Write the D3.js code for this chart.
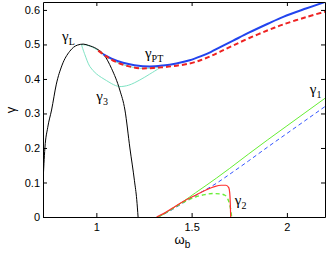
<!DOCTYPE html>
<html>
<head>
<meta charset="utf-8">
<script src="https://cdn.jsdelivr.net/npm/d3@7"></script>
<style>
  body { margin: 0; background: #fff; }
  .tick text { font-family: "Liberation Sans", Arial, sans-serif; font-size: 11px; fill: #000; }
  .lbl { font-family: "Liberation Serif", "Times New Roman", serif; fill: #000; }
</style>
</head>
<body>
<svg width="327" height="255"></svg>
<script>
// The svg
const svg = d3.select('svg'),
  width = +svg.attr('width'),
  height = +svg.attr('height');
const margin = { top: 2, right: 2, bottom: 38, left: 43 };

// Data (omega_b, gamma)
const gammaL_w = [0.72, 0.73, 0.745, 0.765, 0.79, 0.82, 0.86, 0.90, 0.931, 0.96, 1.0, 1.04, 1.08, 1.123, 1.15, 1.176, 1.20, 1.212, 1.219];
const gammaL_g = [0.10, 0.20, 0.26, 0.31, 0.385, 0.44, 0.48, 0.498, 0.501, 0.497, 0.488, 0.47, 0.43, 0.368, 0.31, 0.2, 0.105, 0.05, 0];

const gamma3Low_w = [0.922, 0.94, 0.966, 1.0, 1.054, 1.1, 1.123, 1.17, 1.228, 1.28, 1.333];
const gamma3Low_g = [0.499, 0.47, 0.436, 0.415, 0.395, 0.381, 0.378, 0.382, 0.397, 0.414, 0.432];
const gamma3Up_w = [0.922, 0.95, 0.98, 1.01, 1.05, 1.1, 1.16, 1.228, 1.3, 1.333];
const gamma3Up_g = [0.499, 0.498, 0.492, 0.482, 0.466, 0.45, 0.438, 0.431, 0.432, 0.434];

const gammaPT_w = [1.035, 1.08, 1.14, 1.2, 1.28, 1.35, 1.42, 1.49, 1.55, 1.6, 1.65, 1.718, 1.8, 1.9, 1.981, 2.1, 2.2];
const gammaPT_g = [0.472, 0.459, 0.447, 0.44, 0.436, 0.439, 0.445, 0.454, 0.466, 0.478, 0.492, 0.511, 0.534, 0.56, 0.58, 0.604, 0.623];
const gammaPTd_w = [1.01, 1.05, 1.1, 1.16, 1.228, 1.3, 1.4, 1.49, 1.55, 1.6, 1.65, 1.718, 1.8, 1.9, 1.981, 2.1, 2.2];
const gammaPTd_g = [0.482, 0.466, 0.45, 0.438, 0.431, 0.432, 0.437, 0.445, 0.455, 0.466, 0.479, 0.497, 0.518, 0.541, 0.558, 0.579, 0.595];

const gamma1_w = [1.324, 1.36, 1.40, 1.456, 1.52, 1.58, 1.631, 1.70, 1.80, 1.90, 2.0, 2.1, 2.2];
const gamma1_g = [0, 0.01, 0.025, 0.045, 0.07, 0.093, 0.113, 0.141, 0.183, 0.224, 0.264, 0.304, 0.344];
const gamma1d_w = [1.324, 1.40, 1.456, 1.52, 1.631, 1.718, 1.8, 1.9, 2.0, 2.1, 2.2];
const gamma1d_g = [0, 0.022, 0.041, 0.062, 0.098, 0.131, 0.163, 0.203, 0.242, 0.281, 0.32];

const gamma2_w = [1.316, 1.36, 1.40, 1.456, 1.52, 1.578, 1.62, 1.655, 1.68, 1.695, 1.700, 1.703, 1.705];
const gamma2_g = [0, 0.012, 0.026, 0.045, 0.063, 0.079, 0.088, 0.092, 0.092, 0.085, 0.07, 0.04, 0];
const gamma2d_w = [1.324, 1.40, 1.456, 1.52, 1.57, 1.612, 1.65, 1.675, 1.69, 1.70, 1.707, 1.71];
const gamma2d_g = [0, 0.024, 0.042, 0.058, 0.065, 0.068, 0.067, 0.063, 0.052, 0.035, 0.015, 0];

const xTicks = [1, 1.5, 2];
const yTicks = [0, 0.1, 0.2, 0.3, 0.4, 0.5, 0.6];

// Scales
const x = d3.scaleLinear().domain([0.72, 2.2]).range([margin.left, width - margin.right]);
const y = d3.scaleLinear().domain([0, 0.623]).range([height - margin.bottom, margin.top]);

// Clip
svg.append('clipPath').attr('id', 'clip')
  .append('rect')
  .attr('x', margin.left).attr('y', margin.top)
  .attr('width', width - margin.left - margin.right)
  .attr('height', height - margin.top - margin.bottom);

function draw(ws, gs, color, w, dash, curve) {
  const line = d3.line()
    .x(d => x(d[0]))
    .y(d => y(d[1]))
    .curve(curve || d3.curveMonotoneX);
  const pts = ws.map((v, i) => [v, gs[i]]);
  const p = svg.append('path')
    .attr('clip-path', 'url(#clip)')
    .attr('d', line(pts))
    .attr('fill', 'none')
    .attr('stroke', color)
    .attr('stroke-width', w);
  if (dash) p.attr('stroke-dasharray', dash);
}

const smooth = d3.curveCatmullRom.alpha(0.5);
draw(gamma3Up_w, gamma3Up_g, '#7fe3c4', 1, null, smooth);
draw(gamma3Low_w, gamma3Low_g, '#7fe3c4', 1, null, smooth);
draw(gammaL_w, gammaL_g, '#000', 1);
draw(gamma1_w, gamma1_g, '#66ee33', 1);
draw(gamma1d_w, gamma1d_g, '#3355ff', 1, '4,3');
draw(gamma2d_w, gamma2d_g, '#66ee33', 1.4, '4,3');
draw(gamma2_w, gamma2_g, '#ff3030', 1.2);
draw(gammaPT_w, gammaPT_g, '#2244ee', 2, null, smooth);
draw(gammaPTd_w, gammaPTd_g, '#ee2222', 2, '5,3', smooth);

// Axes (ticks pointing inward, box on top and right)
svg.append('g')
  .attr('transform', `translate(0,${height - margin.bottom})`)
  .call(d3.axisBottom(x).tickValues(xTicks).tickSizeInner(-4).tickSizeOuter(0).tickPadding(6).tickFormat(d3.format('')));
svg.append('g')
  .attr('transform', `translate(${margin.left},0)`)
  .call(d3.axisLeft(y).tickValues(yTicks).tickSizeInner(-4).tickSizeOuter(0).tickPadding(3).tickFormat(d3.format('')));
svg.append('g')
  .attr('transform', `translate(0,${margin.top})`)
  .call(d3.axisTop(x).tickValues(xTicks).tickSizeInner(-4).tickSizeOuter(0).tickFormat(''));
svg.append('g')
  .attr('transform', `translate(${width - margin.right},0)`)
  .call(d3.axisRight(y).tickValues(yTicks).tickSizeInner(-4).tickSizeOuter(0).tickFormat(''));
svg.selectAll('.domain').attr('stroke', '#000');
svg.selectAll('.tick line').attr('stroke', '#000');

// Curve labels
function label(tx, ty, sub) {
  const t = svg.append('text').attr('class', 'lbl').attr('x', tx).attr('y', ty).style('font-size', '15px');
  t.append('tspan').text('γ');
  t.append('tspan').attr('dy', 4).style('font-size', '10px').text(sub);
}
label(x(0.82), y(0.51), 'L');
label(x(1.0), y(0.335), '3');
label(x(1.255), y(0.46), 'PT');
label(x(2.12), y(0.355), '1');
label(x(1.727), y(0.035), '2');

// Axis titles
const xt = svg.append('text')
  .attr('x', x(1.41)).attr('y', 244)
  .style('font-family', '"Liberation Sans", Arial, sans-serif')
  .style('font-size', '13px');
xt.append('tspan').text('ω');
xt.append('tspan').attr('dy', 4).style('font-size', '10px').text('b');

svg.append('text')
  .attr('transform', `translate(15,${y(0.31)}) rotate(-90)`)
  .attr('text-anchor', 'middle')
  .style('font-family', '"Liberation Sans", Arial, sans-serif')
  .style('font-size', '13px')
  .text('γ');
</script>
</body>
</html>
